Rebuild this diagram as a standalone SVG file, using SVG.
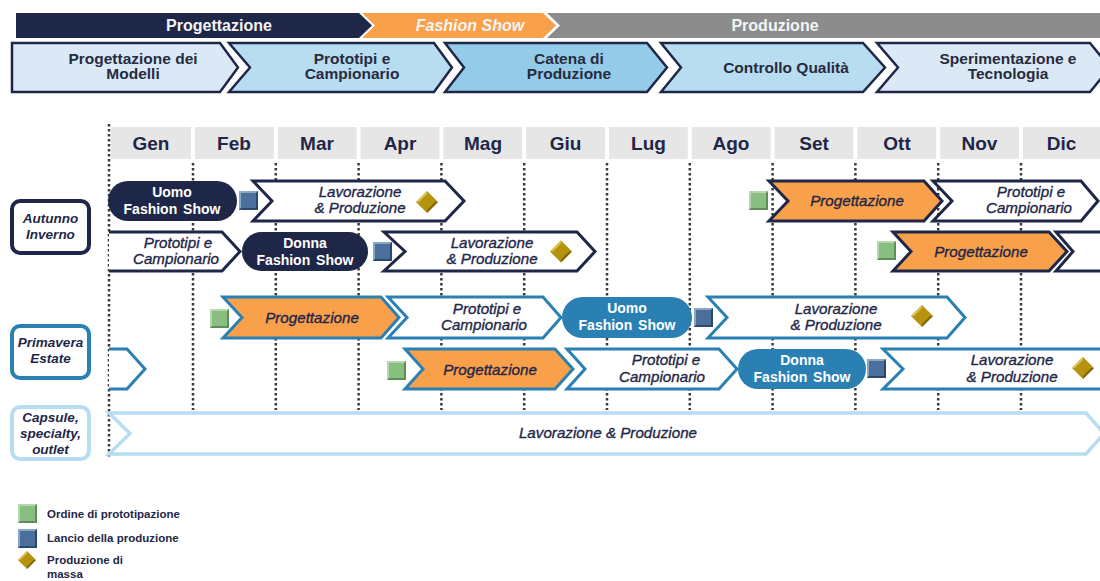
<svg xmlns="http://www.w3.org/2000/svg" width="1100" height="581" viewBox="0 0 1100 581">
<style>
text{font-family:"Liberation Sans",Arial,sans-serif}
.band{font-size:16px;font-weight:bold;fill:#f4f4f4;text-anchor:middle}
.phase{font-size:15.5px;font-weight:bold;fill:#272b40;text-anchor:middle}
.phs{stroke:#1f2748;stroke-width:2.5}
.month{font-size:19px;font-weight:bold;fill:#1f2748;text-anchor:middle}
.cell{fill:#e6e6e6}
.grid{stroke:#3a3a3a;stroke-width:2.5;stroke-dasharray:2.5 2.5;fill:none}
.lbl{font-size:13.5px;font-weight:bold;font-style:italic;fill:#1f2748;text-anchor:middle}
.box{fill:#fff;stroke-width:4}
.it{font-size:15.2px;font-style:italic;fill:#1f2748;stroke:#1f2748;stroke-width:0.35;text-anchor:middle}
.pt{font-size:14px;font-weight:bold;fill:#fff;text-anchor:middle;word-spacing:2px}
.nv{stroke:#1f2748;stroke-width:3}
.tl{stroke:#2a80b3;stroke-width:3}
.wh{fill:#fff}
.or{fill:#f9a04b}
.leg{font-size:11.5px;font-weight:bold;fill:#1f2748}
</style>
<defs>
<g id="sqG">
<rect x="0" y="0" width="19" height="19" fill="#88bf80"/>
<path d="M0,0 H19 L17,2 H2 V17 L0,19 Z" fill="#b4d9ad"/>
<path d="M19,0 V19 H0 L2,17 H17 V2 Z" fill="#5f8d58"/>
</g>
<g id="sqB">
<rect x="0" y="0" width="19" height="19" fill="#4a6f9a"/>
<path d="M0,0 H19 L17,2 H2 V17 L0,19 Z" fill="#8aa7c7"/>
<path d="M19,0 V19 H0 L2,17 H17 V2 Z" fill="#2c476a"/>
</g>
<g id="dia">
<polygon points="0,-11 11,0 0,11 -11,0" fill="#b5930f"/>
<polygon points="0,-11 -11,0 -8,0 0,-8" fill="#dcc055"/>
<polygon points="0,11 11,0 8,0 0,8" fill="#7f6608"/>
</g>
</defs>

<!-- top band -->
<g id="band">
<path d="M16,13 H359 L372,25.5 L359,38 H16 Z" fill="#1f2748"/>
<path d="M362,13 H543 L556,25.5 L543,38 H362 L375,25.5 Z" fill="#f9a04b"/>
<path d="M547,13 H1100 V38 H547 L560,25.5 Z" fill="#8c8c8c"/>
<text class="band" x="219" y="31">Progettazione</text>
<text class="band" x="470" y="31" font-style="italic">Fashion Show</text>
<text class="band" x="775" y="31">Produzione</text>
</g>

<!-- phase chevrons -->
<g id="phase1"><path class="phs" d="M12,43 H220 L238,67.5 L220,92 H12 Z" fill="#dbe9f7"/>
<text class="phase" x="133" y="64">Progettazione dei</text><text class="phase" x="133" y="79">Modelli</text></g>
<g id="phase2"><path class="phs" d="M229,43 H434 L452,67.5 L434,92 H229 L250,67.5 Z" fill="#b8dcf0"/>
<text class="phase" x="352" y="64">Prototipi e</text><text class="phase" x="352" y="79">Campionario</text></g>
<g id="phase3"><path class="phs" d="M445,43 H647 L667,67.5 L647,92 H445 L464,67.5 Z" fill="#93cbe9"/>
<text class="phase" x="569" y="64">Catena di</text><text class="phase" x="569" y="79">Produzione</text></g>
<g id="phase4"><path class="phs" d="M661,43 H863 L885,67.5 L863,92 H661 L681,67.5 Z" fill="#b8dcf0"/>
<text class="phase" x="786" y="73">Controllo Qualità</text></g>
<g id="phase5"><path class="phs" d="M877,43 H1090 L1110,67.5 L1090,92 H877 L898,67.5 Z" fill="#dbe9f7"/>
<text class="phase" x="1008" y="64">Sperimentazione e</text><text class="phase" x="1008" y="79">Tecnologia</text></g>

<!-- month header -->
<g id="months">
<rect class="cell" x="111" y="127" width="80" height="32"/>
<rect class="cell" x="195" y="127" width="78.8" height="32"/>
<rect class="cell" x="277.8" y="127" width="78.8" height="32"/>
<rect class="cell" x="360.6" y="127" width="78.8" height="32"/>
<rect class="cell" x="443.4" y="127" width="78.8" height="32"/>
<rect class="cell" x="526.2" y="127" width="78.8" height="32"/>
<rect class="cell" x="609" y="127" width="78.8" height="32"/>
<rect class="cell" x="691.8" y="127" width="78.8" height="32"/>
<rect class="cell" x="774.6" y="127" width="78.8" height="32"/>
<rect class="cell" x="857.4" y="127" width="78.8" height="32"/>
<rect class="cell" x="940.2" y="127" width="78.8" height="32"/>
<rect class="cell" x="1023" y="127" width="77" height="32"/>
<text class="month" x="151" y="150">Gen</text>
<text class="month" x="234" y="150">Feb</text>
<text class="month" x="317" y="150">Mar</text>
<text class="month" x="400" y="150">Apr</text>
<text class="month" x="483" y="150">Mag</text>
<text class="month" x="565.5" y="150">Giu</text>
<text class="month" x="648.5" y="150">Lug</text>
<text class="month" x="731" y="150">Ago</text>
<text class="month" x="814" y="150">Set</text>
<text class="month" x="897" y="150">Ott</text>
<text class="month" x="979.5" y="150">Nov</text>
<text class="month" x="1061.5" y="150">Dic</text>
</g>

<!-- grid lines -->
<g id="connectors">
<path class="grid" d="M109,124 V459 M193,163 V410 M275.8,163 V410 M358.6,163 V410 M441.4,163 V410 M524.2,163 V410 M607,163 V410 M689.8,163 V410 M772.6,163 V410 M855.4,163 V410 M938.2,163 V410 M1021,163 V410"/>
</g>

<!-- season labels -->
<g id="lbl-ai"><rect class="box" x="12" y="201" width="77" height="52" rx="8" stroke="#1f2748"/>
<text class="lbl" x="50.5" y="223">Autunno</text><text class="lbl" x="50.5" y="239">Inverno</text></g>
<g id="lbl-pe"><rect class="box" x="12" y="326" width="77" height="52" rx="8" stroke="#2a80b3"/>
<text class="lbl" x="50.5" y="347">Primavera</text><text class="lbl" x="50.5" y="363">Estate</text></g>
<g id="lbl-cap"><rect class="box" x="12" y="407" width="77" height="52" rx="8" stroke="#b8dcf1"/>
<text class="lbl" x="50.5" y="421.5">Capsule,</text><text class="lbl" x="50.5" y="437.5">specialty,</text><text class="lbl" x="50.5" y="453.5">outlet</text></g>

<!-- Autunno Inverno row 1 -->
<g id="ai-uomo"><rect x="108" y="181" width="129" height="40" rx="20" fill="#1f2748"/>
<text class="pt" x="172" y="197">Uomo</text><text class="pt" x="172" y="214">Fashion Show</text></g>
<g id="ai-lav1"><path class="wh nv" d="M253,181 H445 L464,201 L445,221 H253 L272,201 Z"/>
<text class="it" x="360" y="197">Lavorazione</text><text class="it" x="360" y="213">&amp; Produzione</text></g>
<g id="ai-prog1"><path class="or nv" d="M769,181 H924 L942,201 L924,221 H769 L788,201 Z"/>
<text class="it" x="857" y="206">Progettazione</text></g>
<g id="ai-proto1"><path class="wh nv" d="M933,181 H1081 L1098,201 L1081,221 H933 L952,201 Z"/>
<text class="it" x="1031" y="197">Prototipi e</text><text class="it" x="1029" y="213">Campionario</text></g>

<!-- Autunno Inverno row 2 -->
<g id="ai-proto0"><path class="wh nv" d="M109,232 H222 L240,251.5 L222,271 H109"/>
<text class="it" x="178" y="247.5">Prototipi e</text><text class="it" x="176" y="264">Campionario</text></g>
<g id="ai-donna"><rect x="242" y="232" width="126" height="39" rx="19.5" fill="#1f2748"/>
<text class="pt" x="305" y="247.5">Donna</text><text class="pt" x="305" y="264.5">Fashion Show</text></g>
<g id="ai-lav2"><path class="wh nv" d="M384,232 H577 L595,251.5 L577,271 H384 L405,251.5 Z"/>
<text class="it" x="492" y="247.5">Lavorazione</text><text class="it" x="492" y="264">&amp; Produzione</text></g>
<g id="ai-prog2"><path class="or nv" d="M893,232 H1049 L1067,251.5 L1049,271 H893 L911,251.5 Z"/>
<text class="it" x="981" y="256.5">Progettazione</text></g>
<g id="ai-next"><path class="wh nv" d="M1110,232 H1056 L1073,251.5 L1056,271 H1110"/></g>

<!-- Primavera Estate row 3 -->
<g id="pe-prog1"><path class="or tl" d="M223,297 H381 L399,317.5 L381,338 H223 L242,317.5 Z"/>
<text class="it" x="312" y="322.5">Progettazione</text></g>
<g id="pe-proto1"><path class="wh tl" d="M388,297 H543 L561,317.5 L543,338 H388 L407,317.5 Z"/>
<text class="it" x="487" y="313.5">Prototipi e</text><text class="it" x="484" y="330">Campionario</text></g>
<g id="pe-uomo"><rect x="562" y="297" width="130" height="41" rx="20.5" fill="#2a80b3"/>
<text class="pt" x="627" y="313">Uomo</text><text class="pt" x="627" y="330">Fashion Show</text></g>
<g id="pe-lav1"><path class="wh tl" d="M708,297 H947 L965,317.5 L947,338 H708 L727,317.5 Z"/>
<text class="it" x="836" y="313.5">Lavorazione</text><text class="it" x="836" y="330">&amp; Produzione</text></g>

<!-- Primavera Estate row 4 -->
<g id="pe-start"><path class="wh tl" d="M109,349 H127 L145,369 L127,389 H109"/></g>
<g id="pe-prog2"><path class="or tl" d="M405,349 H555 L573,369 L555,389 H405 L423,369 Z"/>
<text class="it" x="490" y="374.5">Progettazione</text></g>
<g id="pe-proto2"><path class="wh tl" d="M567,349 H719 L737,369 L719,389 H567 L585,369 Z"/>
<text class="it" x="666" y="365">Prototipi e</text><text class="it" x="662" y="381.5">Campionario</text></g>
<g id="pe-donna"><rect x="738" y="349" width="128" height="40" rx="20" fill="#2a80b3"/>
<text class="pt" x="802" y="365">Donna</text><text class="pt" x="802" y="382">Fashion Show</text></g>
<g id="pe-lav2"><path class="wh tl" d="M1110,349 H883 L903,369 L883,389 H1110"/>
<text class="it" x="1012" y="365">Lavorazione</text><text class="it" x="1012" y="381.5">&amp; Produzione</text></g>

<!-- Capsule row -->
<g id="cap-lav"><path d="M109,413 H1086 L1104,433.5 L1086,454 H109 L130,433.5 Z" fill="#fff" stroke="#b8dcf1" stroke-width="3.5"/>
<text class="it" x="608" y="438">Lavorazione &amp; Produzione</text></g>

<!-- markers -->
<g id="markers">
<use href="#sqB" x="239" y="191"/>
<use href="#sqB" x="373" y="242"/>
<use href="#sqB" x="694" y="308"/>
<use href="#sqB" x="867" y="359"/>
<use href="#sqG" x="749" y="191"/>
<use href="#sqG" x="877" y="241"/>
<use href="#sqG" x="210" y="309"/>
<use href="#sqG" x="387" y="361"/>
<use href="#dia" x="427" y="202"/>
<use href="#dia" x="561" y="251.5"/>
<use href="#dia" x="922" y="316"/>
<use href="#dia" x="1083" y="368"/>
</g>

<!-- legend -->
<g id="legend">
<use href="#sqG" x="18" y="504"/>
<text class="leg" x="47" y="518">Ordine di prototipazione</text>
<use href="#sqB" x="18" y="529"/>
<text class="leg" x="47" y="542">Lancio della produzione</text>
<g transform="translate(27,560) scale(0.82)"><use href="#dia"/></g>
<text class="leg" x="47" y="564">Produzione di</text>
<text class="leg" x="47" y="578">massa</text>
</g>
</svg>
